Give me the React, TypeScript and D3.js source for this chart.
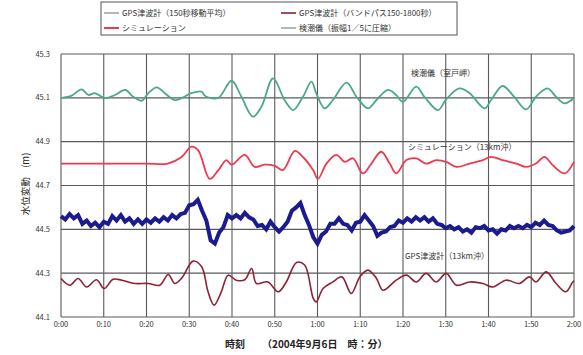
import React from 'react'
import * as d3 from 'd3'

// time in minutes since 0:00, value in metres
const tideT = [0, 2.5, 4.8, 6.4, 7.9, 10.3, 12.6, 15, 16.9, 18.9, 20.4, 22.4, 24.3, 26.6, 28.2, 30.5, 32.9, 33.4, 34.4, 36.8, 39.9, 42.2, 44.9, 46.9, 49.6, 52.3, 54.3, 56.6, 58.6, 59.7, 61.7, 63.6, 66.8, 69.1, 71.8, 73.8, 76.5, 78.4, 80, 83.1, 85, 88.2, 90.1, 93.2, 95.6, 99.1, 100.6, 103.3, 106, 108.8, 111.1, 113.8, 115.8, 117.8, 120]
const tideV = [45.099, 45.11, 45.139, 45.113, 45.121, 45.099, 45.113, 45.136, 45.105, 45.087, 45.121, 45.148, 45.121, 45.09, 45.099, 45.121, 45.128, 45.115, 45.102, 45.099, 45.178, 45.105, 45.014, 45.06, 45.189, 45.09, 45.044, 45.105, 45.174, 45.121, 45.052, 45.09, 45.169, 45.105, 45.052, 45.09, 45.136, 45.113, 45.082, 45.151, 45.105, 45.044, 45.093, 45.143, 45.121, 45.052, 45.09, 45.154, 45.105, 45.047, 45.105, 45.143, 45.105, 45.075, 45.099]

const simT = [0, 10, 20, 25, 28.2, 30.5, 32.1, 34.8, 36.8, 38.7, 39.9, 43, 45.3, 47.7, 50, 51.9, 54.7, 56.6, 59, 60.1, 62.1, 64.4, 66.4, 68.3, 70.6, 72.6, 74.9, 76.9, 78.4, 80.8, 83.1, 85.4, 87.8, 90.1, 92.5, 95.6, 98.7, 100.6, 103.3, 106.5, 108.8, 111.1, 113.1, 115, 117.8, 120]
const simV = [44.8, 44.8, 44.8, 44.8, 44.83, 44.877, 44.86, 44.73, 44.77, 44.816, 44.795, 44.84, 44.785, 44.795, 44.79, 44.77, 44.858, 44.83, 44.77, 44.73, 44.8, 44.84, 44.808, 44.824, 44.755, 44.8, 44.854, 44.8, 44.755, 44.816, 44.824, 44.8, 44.816, 44.808, 44.785, 44.8, 44.816, 44.831, 44.816, 44.8, 44.785, 44.8, 44.831, 44.793, 44.755, 44.808]

// GPS raw, one value per minute 0..120
const gpsV = [
  44.56, 44.545, 44.57, 44.55, 44.565, 44.525, 44.54, 44.515, 44.53, 44.51,
  44.535, 44.525, 44.56, 44.54, 44.565, 44.535, 44.55, 44.525, 44.545, 44.525,
  44.545, 44.53, 44.55, 44.535, 44.555, 44.54, 44.565, 44.55, 44.57, 44.575,
  44.61, 44.615, 44.635, 44.585, 44.54, 44.45, 44.435, 44.485, 44.51, 44.565,
  44.55, 44.565, 44.55, 44.575, 44.555, 44.545, 44.515, 44.52, 44.5, 44.535,
  44.51, 44.49, 44.51, 44.535, 44.585, 44.6, 44.62, 44.565, 44.52, 44.465,
  44.435, 44.475, 44.49, 44.525, 44.525, 44.55, 44.525, 44.52, 44.495, 44.53,
  44.535, 44.565, 44.54, 44.515, 44.47, 44.485, 44.49, 44.51, 44.515, 44.54,
  44.53, 44.55, 44.535, 44.555, 44.54, 44.555, 44.535, 44.55, 44.525, 44.52,
  44.505, 44.515, 44.5, 44.51, 44.49, 44.5, 44.485, 44.51, 44.505, 44.515,
  44.495, 44.5, 44.48, 44.5, 44.495, 44.515, 44.505, 44.515, 44.505, 44.52,
  44.51, 44.53, 44.52, 44.54, 44.52, 44.515, 44.495, 44.485, 44.49, 44.495,
  44.515,
]

const bandT = [0, 2.1, 4, 6, 8.3, 10.1, 12.2, 14.2, 17.3, 20.4, 23.1, 25.1, 26.6, 28.2, 30.9, 32.9, 34.4, 35.8, 37.5, 39.1, 41, 43, 44.6, 45.7, 48.4, 50.8, 52.7, 55.1, 57, 59, 59.7, 61.3, 63.6, 65.7, 67.9, 69.9, 71.8, 73.8, 75.3, 78.4, 80.8, 83.1, 85.4, 87.8, 90.1, 92.5, 95.6, 98.7, 101, 104.1, 107.2, 109.6, 111.1, 113.5, 115.8, 118.1, 119.7, 120]
const bandV = [44.276, 44.245, 44.276, 44.237, 44.27, 44.23, 44.272, 44.268, 44.253, 44.253, 44.245, 44.294, 44.253, 44.276, 44.355, 44.329, 44.215, 44.154, 44.215, 44.291, 44.268, 44.27, 44.321, 44.253, 44.26, 44.215, 44.26, 44.349, 44.337, 44.185, 44.169, 44.23, 44.26, 44.283, 44.207, 44.283, 44.314, 44.276, 44.222, 44.268, 44.291, 44.26, 44.299, 44.26, 44.299, 44.245, 44.26, 44.253, 44.237, 44.268, 44.253, 44.283, 44.26, 44.306, 44.253, 44.215, 44.26, 44.265]

const xTicks = [0, 10, 20, 30, 40, 50, 60, 70, 80, 90, 100, 110, 120]
const xTickLabels = ['0:00', '0:10', '0:20', '0:30', '0:40', '0:50', '1:00', '1:10', '1:20', '1:30', '1:40', '1:50', '2:00']
const yTicks = [44.1, 44.3, 44.5, 44.7, 44.9, 45.1, 45.3]

const legendItems = [
  { label: 'GPS津波計（150秒移動平均）', color: '#7d8a92', w: 1.2 },
  { label: 'GPS津波計（バンドパス150-1800秒）', color: '#8b2332', w: 1.6 },
  { label: 'シミュレーション', color: '#ee3a4e', w: 2 },
  { label: '検潮儀（振幅1／5に圧縮）', color: '#6f8f86', w: 1.2 },
]

const FONT = '"Noto Sans CJK JP", "Noto Sans", sans-serif'

export default function App() {
  const margin = { left: 61, right: 574, top: 54, bottom: 317 }
  const x = d3.scaleLinear().domain([0, 120]).range([margin.left, margin.right])
  const y = d3.scaleLinear().domain([44.1, 45.3]).range([margin.bottom, margin.top])

  const mk = (ts: number[], vs: number[], curve: d3.CurveFactory) =>
    d3.line<number>().x((_, i) => x(ts[i])).y((v) => y(v)).curve(curve)(vs) || ''

  const gpsT = gpsV.map((_, i) => i)

  return (
    <div style={{ position: 'fixed', left: 0, top: 0 }}>
      <svg width={583} height={355} style={{ display: 'block', background: '#fff' }} fontFamily={FONT}>
        {/* legend */}
        <rect x={101} y={2} width={356} height={33} fill="#fff" stroke="#555" strokeWidth={1} />
        {legendItems.map((d, i) => {
          const lx = i % 2 === 0 ? 104 : 281
          const ly = i < 2 ? 13 : 28
          return (
            <g key={d.label}>
              <line x1={lx} x2={lx + 15} y1={ly} y2={ly} stroke={d.color} strokeWidth={d.w} />
              <text x={lx + 18} y={ly} dy="0.35em" fontSize={8} fill="#333">{d.label}</text>
            </g>
          )
        })}

        {/* grid */}
        {xTicks.map((t) => (
          <line key={'vx' + t} x1={x(t)} x2={x(t)} y1={y(45.3)} y2={y(44.1)} stroke="#5a5a5a" strokeWidth={1.1} />
        ))}
        {yTicks.map((v) => (
          <line key={'hy' + v} x1={x(0)} x2={x(120)} y1={y(v)} y2={y(v)} stroke="#5a5a5a" strokeWidth={1.1} />
        ))}

        {/* series */}
        <path d={mk(tideT, tideV, d3.curveCatmullRom)} fill="none" stroke="#4aa88b" strokeWidth={1.8} strokeLinejoin="round" />
        <path d={mk(simT, simV, d3.curveCatmullRom)} fill="none" stroke="#ee3a4e" strokeWidth={1.8} strokeLinejoin="round" />
        <path d={mk(gpsT, gpsV, d3.curveLinear)} fill="none" stroke="#1b1b8f" strokeWidth={4} strokeLinejoin="miter" />
        <path d={mk(bandT, bandV, d3.curveCatmullRom)} fill="none" stroke="#8b2332" strokeWidth={1.6} strokeLinejoin="round" />

        {/* axis labels */}
        {yTicks.map((v) => (
          <text key={'yl' + v} x={50} y={y(v)} dy="0.35em" textAnchor="end" fontSize={7.5} fill="#333">{v.toFixed(1)}</text>
        ))}
        {xTicks.map((t, i) => (
          <text key={'xl' + t} x={x(t)} y={327} textAnchor="middle" fontSize={7.5} fill="#333">{xTickLabels[i]}</text>
        ))}
        <text x={225} y={348} fontSize={10} fill="#222" fontWeight="bold">時刻</text>
        <text x={262} y={348} fontSize={10} fill="#222" fontWeight="bold">（2004年9月6日　時：分）</text>
        <text transform={`translate(26,${184}) rotate(-90)`} textAnchor="middle" dy="0.35em" fontSize={9.5} fill="#222">水位変動　(m)</text>

        {/* annotations */}
        <text x={411} y={73} dy="0.35em" fontSize={8} fill="#333">検潮儀（室戸岬）</text>
        <text x={408} y={147} dy="0.35em" fontSize={8} fill="#333">シミュレーション（13km沖）</text>
        <text x={405} y={256} dy="0.35em" fontSize={8} fill="#333">GPS津波計（13km沖）</text>
      </svg>
    </div>
  )
}
